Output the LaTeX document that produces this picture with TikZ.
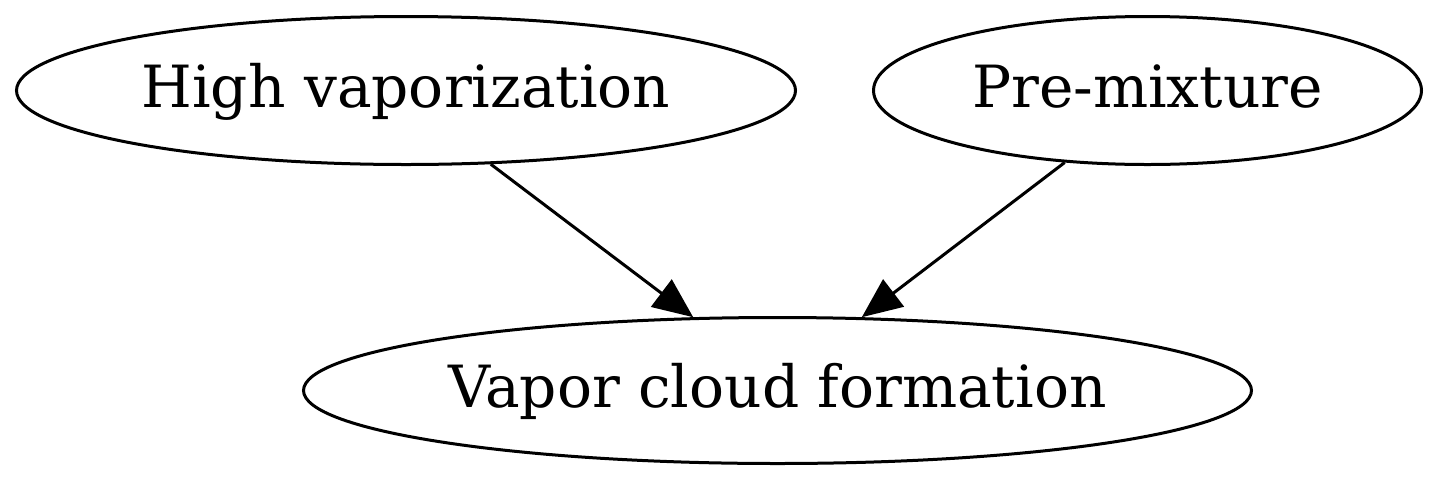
\documentclass[tikz,border=0pt]{standalone}
\usepackage{fontspec}
\setmainfont{DejaVu Serif}
\usetikzlibrary{shapes,arrows.meta,positioning}
\tikzstyle{state} = [ellipse, draw, line width=3pt, inner sep=0pt, text height=44pt, text depth=10pt, font=\fontsize{58.2}{70}\selectfont]
\tikzstyle{link} = [-{Triangle[length=40pt,width=34pt]}, line width=3pt]
\begin{document}
\begin{tikzpicture}[x=1pt,y=-1pt,node distance=1cm and 2cm]
    \useasboundingbox (0,0) rectangle (1441,483);
    \node [state, minimum width=779pt, minimum height=148pt] (highvap) at (406,90.5) {High vaporization};
    \node [state, minimum width=548pt, minimum height=148pt, right=75pt of highvap] (premix) {Pre-mixture};
    \node [state, minimum width=948pt, minimum height=146pt] (vapcloud) at (777.5,390.5) {Vapor cloud formation};

     \draw[link] (highvap.-41) -- (vapcloud.139);
     \draw[link] (premix.-139) -- (vapcloud.41);
\end{tikzpicture}
\end{document}
